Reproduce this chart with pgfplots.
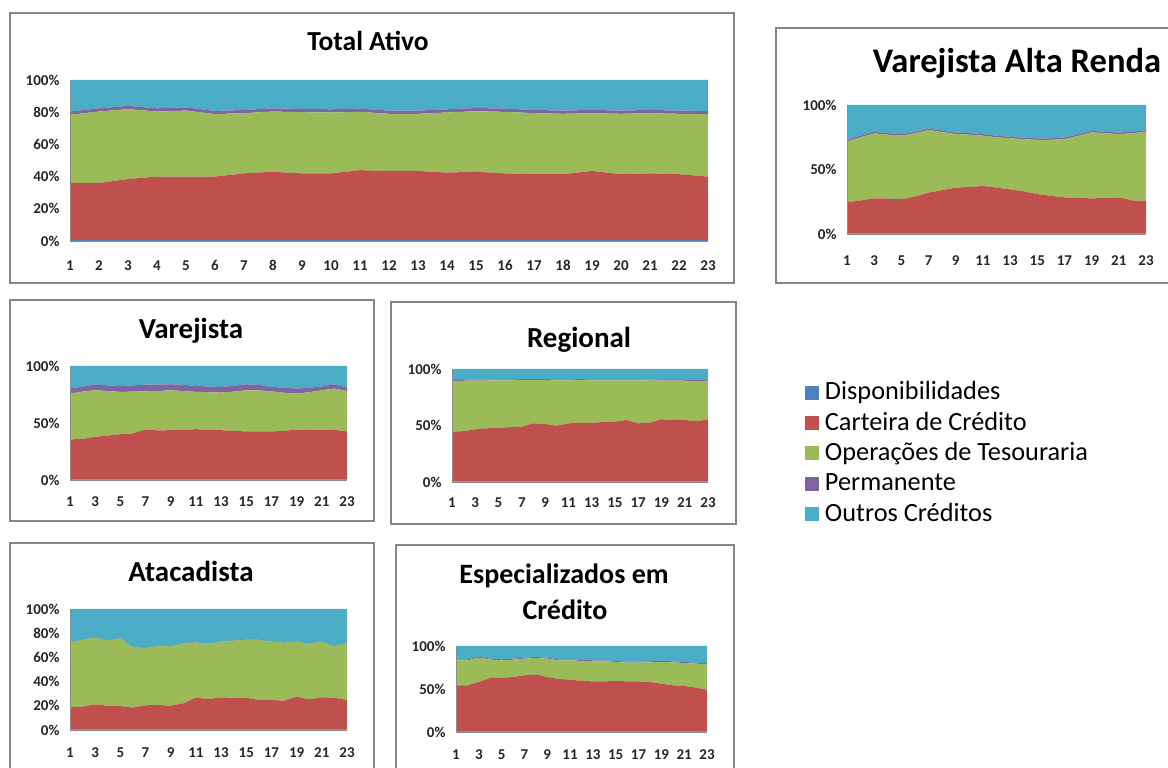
\documentclass[border=0pt]{standalone}
\usepackage{fontspec}
\setmainfont{Carlito}
\usepackage{pgfplots}
\usepackage{pgfplotstable}
\pgfplotsset{compat=1.18}

\definecolor{cblue}{HTML}{4F81BD}
\definecolor{cred}{HTML}{C0504D}
\definecolor{cgreen}{HTML}{9BBB59}
\definecolor{cpurple}{HTML}{8064A2}
\definecolor{caqua}{HTML}{4BACC6}
\definecolor{frame}{HTML}{868686}

% x  D  C  T  P  O  (percent of total assets)
\pgfplotstableread{
x D C T P O
1 0.5 35.5 42.4 2 19.6
2 0.5 35.5 44.4 2 17.6
3 0.5 38 43.4 2 16.1
4 0.5 39.5 40.4 2 17.6
5 0.5 39.5 41 2 17
6 0.5 39.5 38.8 2 19.2
7 0.5 41.5 37.4 2 18.6
8 0.5 42.5 37.4 2 17.6
9 0.5 41.5 38 2 18
10 0.5 41.5 37.8 2 18.2
11 0.5 43.5 36.2 2 17.8
12 0.5 43 35.5 2 19
13 0.5 43 35.5 2 19
14 0.5 42 37.3 2 18.2
15 0.5 42.5 37.6 2 17.4
16 0.5 41.5 38.2 2 17.8
17 0.5 41 37.9 2 18.6
18 0.5 41 37.5 2 19
19 0.5 43 35.9 2 18.6
20 0.5 41 37.5 2 19
21 0.5 41.5 37.4 2 18.6
22 0.5 41 37.5 2 19
23 0.5 39.5 38.8 2 19.2
}\TA

\pgfplotstableread{
x D C T P O
1 0.5 24 47.1 1.2 27.2
2 0.5 25.5 49 1.2 23.8
3 0.5 27.1 50.4 1.2 20.8
4 0.5 27 49.5 1.2 21.8
5 0.5 26.4 49.3 1.2 22.6
6 0.5 28.5 49 1.2 20.8
7 0.5 31.5 48.6 1.2 18.2
8 0.5 33.5 45 1.2 19.8
9 0.5 35.4 41.6 1.2 21.3
10 0.5 36 40.5 1.2 21.8
11 0.5 36.7 39 1.2 22.6
12 0.5 35.5 39 1.2 23.8
13 0.5 34.1 39.6 1.2 24.6
14 0.5 32.5 40.5 1.2 25.3
15 0.5 30.5 41.9 1.2 25.9
16 0.5 29 43.5 1.2 25.8
17 0.5 27.9 45.2 1.2 25.2
18 0.5 27.5 48 1.2 22.8
19 0.5 27.1 51.2 1.2 20
20 0.5 27.5 50 1.2 20.8
21 0.5 27.9 49.1 1.2 21.3
22 0.5 25.5 52 1.2 20.8
23 0.5 25.3 53.5 1.2 19.5
}\VAR

\pgfplotstableread{
x D C T P O
1 0.5 35.1 40.2 4.4 19.8
2 0.5 35.5 41.5 4.5 18
3 0.5 37.4 40.8 5 16.3
4 0.5 38.5 39 5 17
5 0.5 39.7 37.1 5.2 17.5
6 0.5 40.3 36.7 5.5 17
7 0.5 43.8 33.5 5.9 16.3
8 0.5 43 34.5 5.7 16.3
9 0.5 43.2 35 5.3 16
10 0.5 43.5 34 5.5 16.5
11 0.5 44.1 32.7 5.2 17.5
12 0.5 43.5 33 5 18
13 0.5 43.2 33 4.9 18.4
14 0.5 42.5 34.5 5 17.5
15 0.5 42.1 36.1 5.3 16
16 0.5 42.1 35.9 5 16.5
17 0.5 42.1 35.2 3.8 18.4
18 0.5 42.5 33.5 4.5 19
19 0.5 43.8 31.5 4.4 19.8
20 0.5 43.5 33 4 19
21 0.5 43.2 35 3.3 18
22 0.5 43.5 36.2 3.8 16
23 0.5 42.1 35.5 2.9 19
}\VJ

\pgfplotstableread{
x D C T P O
1 0.5 44 44.9 0.8 9.8
2 0.5 44.5 44.6 0.8 9.6
3 0.5 46.1 43.2 0.8 9.4
4 0.5 47 42.3 0.8 9.4
5 0.5 47.6 41.9 0.8 9.2
6 0.5 48 41.5 0.8 9.2
7 0.5 48.5 41.2 0.8 9
8 0.5 51.4 38.3 0.8 9
9 0.5 50.8 38.9 0.8 9
10 0.5 49.4 40.1 0.8 9.2
11 0.5 51.4 38.1 0.8 9.2
12 0.5 51.8 37.9 0.8 9
13 0.5 52 37.5 0.8 9.2
14 0.5 52.5 37 0.8 9.2
15 0.5 52.9 36.6 0.8 9.2
16 0.5 54.4 35.1 0.8 9.2
17 0.5 51.4 38.1 0.8 9.2
18 0.5 52 37.3 0.8 9.4
19 0.5 55 34.1 0.8 9.6
20 0.5 54.5 34.6 0.8 9.6
21 0.5 54.4 34.7 0.8 9.6
22 0.5 53.2 35.7 0.8 9.8
23 0.5 55 33.7 0.8 10
}\RG

\pgfplotstableread{
x D C T P O
1 0.5 18.2 53.5 0.3 27.5
2 0.5 18.8 55.1 0.3 25.3
3 0.5 20.7 55.1 0.3 23.4
4 0.5 19.6 53.7 0.3 25.9
5 0.5 19.3 56 0.3 23.9
6 0.5 18 49.8 0.3 31.4
7 0.5 19.9 47.1 0.3 32.2
8 0.5 20.2 48.7 0.3 30.3
9 0.5 19.6 48.8 0.3 30.8
10 0.5 21.5 49.6 0.3 28.1
11 0.5 26.2 45.5 0.3 27.5
12 0.5 25.1 45.5 0.3 28.6
13 0.5 26.5 46 0.3 26.7
14 0.5 26.2 47.1 0.3 25.9
15 0.5 26.2 47.7 0.3 25.3
16 0.5 24.3 49.6 0.3 25.3
17 0.5 24.3 48.2 0.3 26.7
18 0.5 23.7 48 0.3 27.5
19 0.5 27 45.5 0.3 26.7
20 0.5 24.8 45.8 0.3 28.6
21 0.5 26.5 46 0.3 26.7
22 0.5 26.2 42.2 0.3 30.8
23 0.5 24.3 47.4 0.3 27.5
}\AT

\pgfplotstableread{
x D C T P O
1 0.3 54 29 1.2 15.5
2 0.3 54 29 1.2 15.5
3 0.3 57.8 28.3 1.2 12.4
4 0.3 62.5 21.3 1.2 14.7
5 0.3 62.5 20.5 1.2 15.5
6 0.3 63.7 20.1 1.2 14.7
7 0.3 65.6 19.4 1.2 13.5
8 0.3 66.7 19 1.2 12.8
9 0.3 63.7 21.3 1.2 13.5
10 0.3 61.3 21.7 1.2 15.5
11 0.3 60.6 22.4 1.2 15.5
12 0.3 59 23.3 1.2 16.2
13 0.3 58.6 23.3 1.2 16.6
14 0.3 58.6 23.3 1.2 16.6
15 0.3 59 22.1 1.2 17.4
16 0.3 58.6 21.7 1.2 18.2
17 0.3 58.6 21.7 1.2 18.2
18 0.3 57.8 22.9 1.2 17.8
19 0.3 55.9 25.2 1.2 17.4
20 0.3 54 26.7 1.2 17.8
21 0.3 53.2 26.7 1.2 18.6
22 0.3 51.3 27.9 1.2 19.3
23 0.3 48.9 29.5 1.2 20.1
}\ES

\pgfplotsset{
  panel/.style={
    scale only axis,
    stack plots=y,
    area style,
    xmin=1, xmax=23, ymin=0, ymax=100,
    axis x line*=bottom, axis y line*=left,
    axis line style={draw=black!45, line width=0.8pt},
    major tick length=0pt,
    tick label style={font=\fontsize{15}{15}\selectfont\bfseries, text=black!85},
    /pgf/number format/assume math mode=true,
    yticklabel={\pgfmathprintnumber{\tick}\%},
    xticklabel={\pgfmathprintnumber{\tick}},
    yticklabel style={xshift=-7pt},
    xtick={1,3,...,23},
    ytick={0,50,100},
  },
}
\newcommand{\stackfive}[1]{%
  \addplot[fill=cblue, draw=none] table[x=x, y=D]{#1} \closedcycle;
  \addplot[fill=cred, draw=none] table[x=x, y=C]{#1} \closedcycle;
  \addplot[fill=cgreen, draw=none] table[x=x, y=T]{#1} \closedcycle;
  \addplot[fill=cpurple, draw=none] table[x=x, y=P]{#1} \closedcycle;
  \addplot[fill=caqua, draw=none] table[x=x, y=O]{#1} \closedcycle;
}

\begin{document}
\begin{tikzpicture}[x=1pt, y=1pt]
\useasboundingbox (0,0) rectangle (1168,768);
\clip (0,0) rectangle (1168,768);
\fill[white] (0,0) rectangle (1168,768);

% frames
\draw[frame, line width=1.3pt] (10,755) rectangle (734,485);
\draw[frame, line width=1.3pt] (776,740) rectangle (1180,485);
\draw[frame, line width=1.3pt] (10,468) rectangle (374,247);
\draw[frame, line width=1.3pt] (391,466) rectangle (736,244);
\draw[frame, line width=1.3pt] (10,225) rectangle (374,-10);
\draw[frame, line width=1.3pt] (396,223) rectangle (734,-10);

% Total Ativo
\begin{axis}[panel, at={(70pt,527pt)}, width=638pt, height=161pt,
  xtick={1,...,23}, ytick={0,20,...,100},
  xticklabel style={yshift=-16pt},
  legend cell align=left,
  legend image code/.code={\fill[#1] (0pt,-7pt) rectangle (14pt,7pt);},
  legend style={at={(axis description cs:1.152,-0.881)}, anchor=north west,
    draw=none, fill=none, inner sep=0pt, outer sep=0pt,
    font=\fontsize{26.3}{26}\selectfont, row sep=10.3pt, column sep=6pt,
    nodes={inner sep=0pt, text height=17pt, text depth=3pt}}]
\stackfive{\TA}
\legend{Disponibilidades, Carteira de Crédito, Operações de Tesouraria, Permanente, Outros Créditos}
\end{axis}

% Varejista Alta Renda
\begin{axis}[panel, at={(847pt,534pt)}, width=299pt, height=129pt,
  xticklabel style={yshift=-18pt}]
\stackfive{\VAR}
\end{axis}

% Varejista
\begin{axis}[panel, at={(70pt,288pt)}, width=277pt, height=114pt,
  xticklabel style={yshift=-13pt}]
\stackfive{\VJ}
\end{axis}

% Regional
\begin{axis}[panel, at={(452pt,286pt)}, width=256pt, height=113pt,
  xticklabel style={yshift=-12pt}]
\stackfive{\RG}
\end{axis}

% Atacadista
\begin{axis}[panel, at={(70pt,38pt)}, width=277pt, height=121pt, ytick={0,20,...,100},
  xticklabel style={yshift=-14pt}]
\stackfive{\AT}
\end{axis}

% Especializados em Credito
\begin{axis}[panel, at={(456pt,36pt)}, width=251pt, height=86pt,
  xticklabel style={yshift=-14pt}]
\stackfive{\ES}
\end{axis}

% titles
\node[anchor=base, inner sep=0pt, font=\fontsize{27.5}{30}\selectfont\bfseries] at (368,717) {Total Ativo};
\node[anchor=base, inner sep=0pt, font=\fontsize{34.5}{36}\selectfont\bfseries] at (1017,695) {Varejista Alta Renda};
\node[anchor=base, inner sep=0pt, font=\fontsize{29}{32}\selectfont\bfseries] at (191,429) {Varejista};
\node[anchor=base, inner sep=0pt, font=\fontsize{29}{32}\selectfont\bfseries] at (579,420) {Regional};
\node[anchor=base, inner sep=0pt, font=\fontsize{29}{32}\selectfont\bfseries] at (191,186) {Atacadista};
\node[anchor=base, inner sep=0pt, font=\fontsize{28}{32}\selectfont\bfseries] at (564,184) {Especializados em};
\node[anchor=base, inner sep=0pt, font=\fontsize{28}{32}\selectfont\bfseries] at (565,148) {Crédito};
\end{tikzpicture}
\end{document}
